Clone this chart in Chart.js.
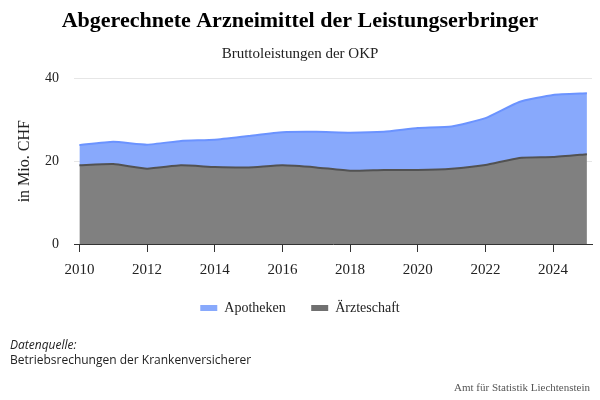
<!DOCTYPE html>
<html>
<head>
<meta charset="utf-8">
<script src="https://cdn.jsdelivr.net/npm/chart.js@4"></script>
<style>
  body { margin: 0; background: #fff; }
  #wrap { position: relative; width: 600px; height: 400px; }
  #src { position: absolute; left: 10px; top: 337px; font-family: "Open Sans", sans-serif; font-size: 12px; line-height: 15px; color: #222; }
  #credit { position: absolute; right: 10px; top: 381px; font-family: "Liberation Serif", serif; font-size: 11px; color: #555; }
</style>
</head>
<body>
<div id="wrap">
  <canvas id="chart" width="600" height="400"></canvas>
  <div id="src"><i>Datenquelle:</i><br>Betriebsrechungen der Krankenversicherer</div>
  <div id="credit">Amt für Statistik Liechtenstein</div>
</div>
<script>
var years = [2010, 2011, 2012, 2013, 2014, 2015, 2016, 2017, 2018, 2019, 2020, 2021, 2022, 2023, 2024, 2025];
var aerzteschaft = [19.0, 19.3, 18.2, 19.0, 18.6, 18.5, 19.0, 18.5, 17.7, 17.9, 17.9, 18.2, 19.1, 20.8, 21.0, 21.7];
var apotheken = [4.9, 5.4, 5.8, 5.9, 6.6, 7.6, 8.0, 8.6, 9.2, 9.2, 10.1, 10.2, 11.3, 13.5, 15.0, 14.7];
var yearTicks = [2010, 2012, 2014, 2016, 2018, 2020, 2022, 2024];

var serif = "'Liberation Serif', 'Times New Roman', serif";
var blueFill = '#88a9fc';
var grayFill = '#808080';

function toPoints(values) {
    return values.map(function (v, i) { return { x: years[i], y: v }; });
}

var ctx = document.getElementById('chart').getContext('2d');
new Chart(ctx, {
    type: 'line',
    data: {
        datasets: [
            {
                label: 'Ärzteschaft',
                data: toPoints(aerzteschaft),
                borderColor: '#525252',
                backgroundColor: grayFill,
                borderWidth: 2,
                fill: 'origin',
                pointRadius: 0,
                tension: 0.15
            },
            {
                label: 'Apotheken',
                data: toPoints(apotheken),
                borderColor: '#6b93ff',
                backgroundColor: blueFill,
                borderWidth: 2,
                fill: '-1',
                pointRadius: 0,
                tension: 0.15
            }
        ]
    },
    options: {
        responsive: false,
        animation: false,
        layout: { padding: { left: 8, right: 8, bottom: 75 } },
        plugins: {
            title: {
                display: true,
                text: 'Abgerechnete Arzneimittel der Leistungserbringer',
                color: '#000',
                font: { family: serif, size: 22, weight: 'bold' },
                padding: { top: 8, bottom: 4 }
            },
            subtitle: {
                display: true,
                text: 'Bruttoleistungen der OKP',
                color: '#222',
                font: { family: serif, size: 15 },
                padding: { top: 7, bottom: 15 }
            },
            legend: {
                position: 'bottom',
                reverse: true,
                labels: {
                    color: '#222',
                    font: { family: serif, size: 14 },
                    boxWidth: 17,
                    boxHeight: 6,
                    padding: 22,
                    generateLabels: function (chart) {
                        var items = Chart.defaults.plugins.legend.labels.generateLabels(chart);
                        items.forEach(function (it) {
                            it.fillStyle = it.datasetIndex === 1 ? blueFill : '#707070';
                            it.lineWidth = 0;
                            if (it.datasetIndex === 1) it.text = it.text + ' ';
                        });
                        return items;
                    }
                }
            },
            tooltip: { enabled: false }
        },
        scales: {
            x: {
                type: 'linear',
                min: 2009.84,
                max: 2025.15,
                afterBuildTicks: function (scale) {
                    scale.ticks = yearTicks.map(function (v) { return { value: v }; });
                },
                afterFit: function (scale) { scale.height = 35; },
                ticks: {
                    color: '#222',
                    font: { family: serif, size: 15 },
                    padding: 9,
                    maxRotation: 0,
                    callback: function (v) { return String(v); }
                },
                grid: { drawOnChartArea: false, color: '#333', tickLength: 8 },
                border: { color: '#333', width: 1 }
            },
            y: {
                stacked: true,
                min: 0,
                max: 40,
                afterFit: function (scale) { scale.width = 66; },
                ticks: {
                    stepSize: 20,
                    color: '#222',
                    font: { family: serif, size: 14 },
                    padding: 15
                },
                grid: { color: '#e6e6e6', drawTicks: false },
                border: { display: false },
                title: {
                    display: true,
                    text: 'in Mio. CHF',
                    color: '#222',
                    font: { family: serif, size: 16 },
                    padding: { top: 7, bottom: 10 }
                }
            }
        }
    }
});
</script>
</body>
</html>
